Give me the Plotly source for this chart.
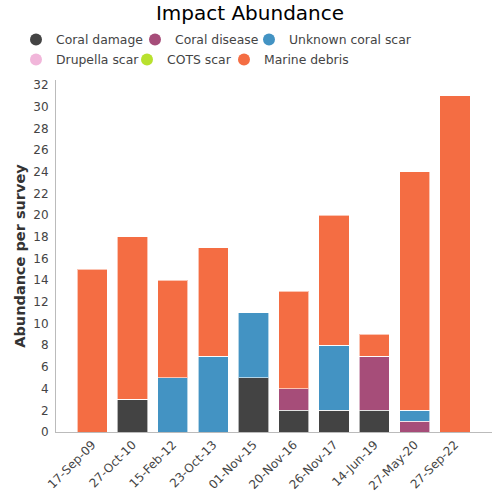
import plotly.graph_objects as go

categories = ["17-Sep-09", "27-Oct-10", "15-Feb-12", "23-Oct-13", "01-Nov-15",
              "20-Nov-16", "26-Nov-17", "14-Jun-19", "27-May-20", "27-Sep-22"]
coral_damage = [0, 3, 0, 0, 5, 2, 2, 2, 0, 0]
coral_disease = [0, 0, 0, 0, 0, 2, 0, 5, 1, 0]
unknown_scar = [0, 0, 5, 7, 6, 0, 6, 0, 1, 0]
drupella_scar = [0, 0, 0, 0, 0, 0, 0, 0, 0, 0]
cots_scar = [0, 0, 0, 0, 0, 0, 0, 0, 0, 0]
marine_debris = [15, 15, 9, 10, 0, 9, 12, 2, 22, 31]
y_ticks = list(range(0, 33, 2))

series_names = ["Coral damage", "Coral disease", "Unknown coral scar",
                "Drupella scar", "COTS scar", "Marine debris"]
series_values = [coral_damage, coral_disease, unknown_scar,
                 drupella_scar, cots_scar, marine_debris]
series_colors = ["#434343", "#a64d79", "#4393c3", "#f1b6da", "#b8e12e", "#f46d43"]
# one legend box per entry, laid out in two rows like the reference
legend_ids = ["legend", "legend2", "legend3", "legend4", "legend5", "legend6"]
legend_x = [0.032, 0.270, 0.498, 0.032, 0.254, 0.448]
legend_y = [0.92, 0.92, 0.92, 0.88, 0.88, 0.88]

fig = go.Figure()
for name, vals, color in zip(series_names, series_values, series_colors):
    fig.add_trace(go.Bar(
        x=categories, y=vals, name=name, marker_color=color,
        marker_line=dict(color="rgba(255,255,255,0.6)", width=1),
        showlegend=False,
    ))
for name, color, lg in zip(series_names, series_colors, legend_ids):
    fig.add_trace(go.Scatter(
        x=[None], y=[None], mode="markers", name=name,
        marker=dict(color=color, size=12, symbol="circle"),
        legend=lg, showlegend=True,
    ))

font = "DejaVu Sans"
layout_legends = {}
for lg, lx, ly in zip(legend_ids, legend_x, legend_y):
    layout_legends[lg] = dict(orientation="h", xref="container", yref="container",
                              x=lx, y=ly, xanchor="left", yanchor="middle",
                              traceorder="normal", font=dict(size=12.4, color="#444"),
                              itemwidth=30, bgcolor="rgba(0,0,0,0)")

fig.update_layout(
    width=500, height=500,
    barmode="stack", bargap=0.25,
    plot_bgcolor="white", paper_bgcolor="white",
    font=dict(family=font, size=12, color="#444"),
    title=dict(text="Impact Abundance", x=0.5, xanchor="center", y=0.974, yanchor="middle",
               font=dict(family=font, size=20, color="#000")),
    margin=dict(l=56, r=8, t=80, b=68, autoexpand=False),
    xaxis=dict(showline=True, linecolor="#bbb", linewidth=1, tickangle=-45,
               range=[-0.9, 9.92], ticks="", showgrid=False, automargin=False,
               tickfont=dict(size=12, color="#444")),
    yaxis=dict(range=[0, 32.46], tickvals=y_ticks, showline=True, linecolor="#bbb",
               linewidth=1, showgrid=False, zeroline=False, ticks="", automargin=False,
               ticklabelstandoff=4,
               title=dict(text="<b>Abundance per survey</b>",
                          font=dict(size=14.5, color="#333"), standoff=4),
               tickfont=dict(size=12, color="#444")),
    **layout_legends,
)

fig.write_html("out.html", config={"displayModeBar": False},
               post_script="document.body.style.margin='0';")
